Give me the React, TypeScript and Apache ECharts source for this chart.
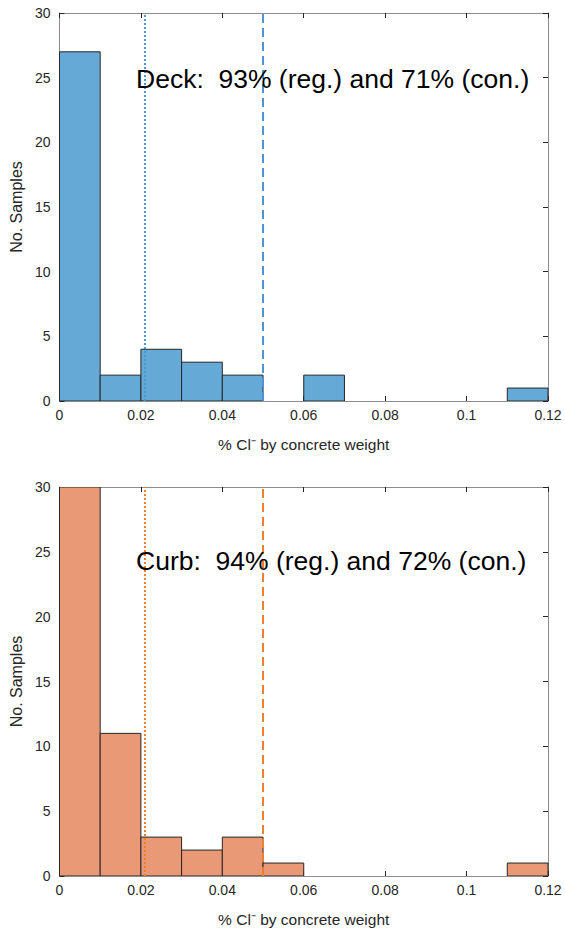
import React, { useEffect, useRef } from "react";
import * as echarts from "echarts";

const binEdges = [0, 0.01, 0.02, 0.03, 0.04, 0.05, 0.06, 0.07, 0.08, 0.09, 0.1, 0.11, 0.12];
const deckCounts = [27, 2, 4, 3, 2, 0, 2, 0, 0, 0, 0, 1];
const curbCounts = [30, 11, 3, 2, 3, 1, 0, 0, 0, 0, 0, 1];
const regLimit = 0.021;
const conLimit = 0.05;
const xTicks = [0, 0.02, 0.04, 0.06, 0.08, 0.1, 0.12];
const yTicks = [0, 5, 10, 15, 20, 25, 30];
const deckText = "Deck:  93% (reg.) and 71% (con.)";
const curbText = "Curb:  94% (reg.) and 72% (con.)";
const xLabel = "% Cl\u207B by concrete weight";
const yLabel = "No. Samples";

const FONT = "'Liberation Sans', Arial, sans-serif";

export default function App() {
  const ref = useRef<HTMLDivElement>(null);
  useEffect(() => {
    document.body.style.margin = "0";
    const chart = echarts.init(ref.current!, null, { renderer: "svg" });
    const grids = [
      { left: 59, top: 13, width: 489, height: 388 },
      { left: 59, top: 487, width: 489, height: 389 },
    ];
    const axisLineStyle = { color: "#8c8c8c", width: 1 };
    const tickStyle = { color: "#262626", width: 1 };
    const xAxes: any[] = [];
    const yAxes: any[] = [];
    grids.forEach((_, gi) => {
      const common = {
        gridIndex: gi,
        type: "value",
        min: 0,
        splitLine: { show: false },
        axisLine: { show: true, onZero: false, lineStyle: axisLineStyle },
        axisTick: { show: true, inside: true, length: 5, lineStyle: tickStyle },
      };
      xAxes.push({
        ...common,
        position: "bottom",
        max: 0.12,
        interval: 0.02,
        name: xLabel,
        nameLocation: "middle",
        nameGap: 35,
        nameTextStyle: { fontFamily: FONT, fontSize: 15.5, color: "#262626" },
        axisLabel: {
          fontFamily: FONT,
          fontSize: 14,
          color: "#262626",
          margin: 7,
          formatter: (v: number) => {
            const t = xTicks.find((x) => Math.abs(x - v) < 1e-9);
            return t === undefined ? "" : String(+t.toFixed(2));
          },
        },
      });
      xAxes.push({
        ...common,
        position: "top",
        max: 0.12,
        interval: 0.02,
        axisLabel: { show: false },
      });
      yAxes.push({
        ...common,
        position: "left",
        max: 30,
        interval: 5,
        name: yLabel,
        nameLocation: "middle",
        nameGap: 26,
        nameTextStyle: { fontFamily: FONT, fontSize: 16, color: "#262626" },
        axisLabel: {
          fontFamily: FONT,
          fontSize: 14,
          color: "#262626",
          margin: 9,
          formatter: (v: number) => (yTicks.includes(v) ? String(v) : ""),
        },
      });
      yAxes.push({
        ...common,
        position: "right",
        max: 30,
        interval: 5,
        axisLabel: { show: false },
      });
    });

    const mkData = (counts: number[]) =>
      counts.map((c, i) => [binEdges[i], binEdges[i + 1], c]);

    const histSeries = (gi: number, counts: number[], fill: string) => ({
      type: "custom",
      xAxisIndex: gi * 2,
      yAxisIndex: gi * 2,
      data: mkData(counts),
      encode: { x: [0, 1], y: 2 },
      clip: true,
      renderItem: (params: any, api: any) => {
        const x0 = api.value(0);
        const x1 = api.value(1);
        const c = api.value(2);
        if (!c) return null;
        const p0 = api.coord([x0, c]);
        const p1 = api.coord([x1, 0]);
        return {
          type: "rect",
          shape: { x: p0[0], y: p0[1], width: p1[0] - p0[0], height: p1[1] - p0[1] },
          style: { fill, stroke: "#262626", lineWidth: 1 },
        };
      },
    });

    const vline = (gi: number, x: number, color: string, type: any, width: number) => ({
      type: "line",
      xAxisIndex: gi * 2,
      yAxisIndex: gi * 2,
      data: [
        [x, 0],
        [x, 30],
      ],
      symbol: "none",
      lineStyle: { color, type, width },
      z: 5,
    });

    const blue = "#65a9d7";
    const blueLine = "#4d94d6";
    const orange = "#e99975";
    const orangeLine = "#f07f2c";

    chart.setOption({
      animation: false,
      grid: grids,
      xAxis: xAxes,
      yAxis: yAxes,
      series: [
        histSeries(0, deckCounts, blue),
        vline(0, regLimit, blueLine, [2, 2], 2),
        vline(0, conLimit, blueLine, [9, 5], 2),
        histSeries(1, curbCounts, orange),
        vline(1, regLimit, orangeLine, [2, 2], 2),
        vline(1, conLimit, orangeLine, [9, 5], 2),
      ],
      graphic: [
        {
          type: "text",
          left: 136,
          top: 65,
          style: { text: deckText, fontFamily: FONT, fontSize: 26.5, fill: "#000" },
          z: 10,
        },
        {
          type: "text",
          left: 136,
          top: 547,
          style: { text: curbText, fontFamily: FONT, fontSize: 26.5, fill: "#000" },
          z: 10,
        },
      ],
    });
    return () => chart.dispose();
  }, []);
  return <div ref={ref} style={{ width: 565, height: 932 }} />;
}
